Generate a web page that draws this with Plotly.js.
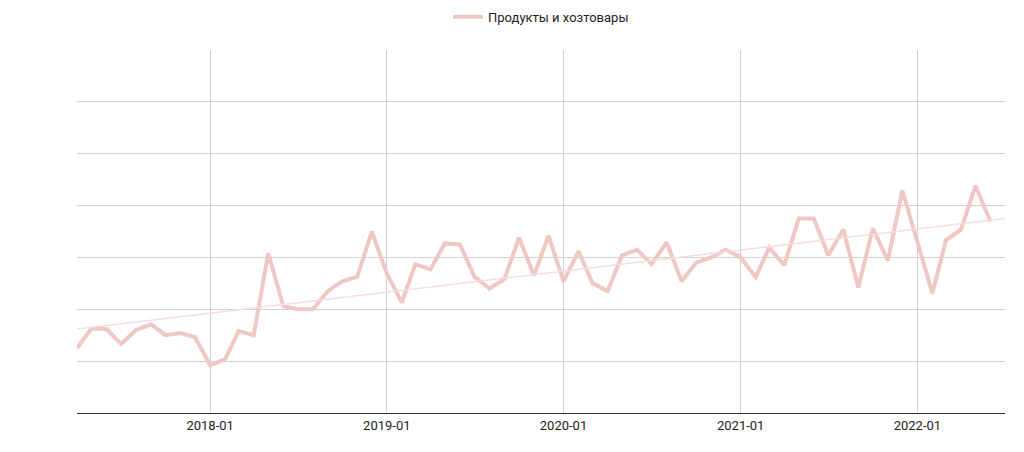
<!DOCTYPE html>
<html>
<head>
<meta charset="utf-8">
<script src="https://cdn.plot.ly/plotly-3.0.1.min.js"></script>
<style>html,body{margin:0;padding:0;background:#fff}#chart{width:1024px;height:452px}</style>
</head>
<body>
<div id="chart"></div>
<script>
'use strict'

// monthly values, 2017-04 .. 2022-06
const months = [];
for (let i = 0; i < 63; i++) {
    const y = 2017 + Math.floor((3 + i) / 12);
    const m = (3 + i) % 12 + 1;
    months.push(`${y}-${String(m).padStart(2, '0')}-01`);
}
const values = [
    12.5, 16.3, 16.2, 13.3, 16.0, 17.1, 15.0, 15.4, 14.6,
    9.2, 10.4, 15.8, 15.0, 30.8, 20.6, 20.0, 20.0, 23.5, 25.4, 26.3, 35.0,
    26.9, 21.3, 28.7, 27.7, 32.7, 32.5, 26.3, 24.0, 25.8, 33.8, 26.5, 34.2,
    25.4, 31.2, 25.0, 23.5, 30.4, 31.5, 28.7, 32.9, 25.4, 29.0, 30.0, 31.5,
    30.0, 26.2, 31.9, 28.5, 37.5, 37.5, 30.4, 35.4, 24.2, 35.6, 29.4, 42.9,
    32.7, 23.1, 33.3, 35.4, 43.8, 36.9
];
const trendX = ['2017-04-01', '2022-07-01'];
const trendY = [16.2, 37.5];
const tickVals = ['2018-01-01', '2019-01-01', '2020-01-01', '2021-01-01', '2022-01-01'];
const tickText = ['2018-01', '2019-01', '2020-01', '2021-01', '2022-01'];

const traces = [
    {
        x: months, y: values, mode: 'lines', name: 'Продукты и хозтовары',
        line: {color: '#efc7c3', width: 4}, type: 'scatter'
    },
    {
        x: trendX, y: trendY, mode: 'lines', showlegend: false,
        line: {color: '#f7dede', width: 1.5}, type: 'scatter'
    }
];

const layout = {
    width: 1024, height: 452,
    margin: {l: 77, r: 19, t: 50, b: 39, autoexpand: false},
    font: {family: 'Roboto, Arial, sans-serif', size: 13, color: '#222'},
    showlegend: true,
    legend: {orientation: 'h', x: 0.5, xanchor: 'center', y: 1.05, yanchor: 'bottom', font: {size: 13}},
    xaxis: {
        range: ['2017-04-01', '2022-07-01'],
        tickvals: tickVals, ticktext: tickText,
        showgrid: true, gridcolor: '#cfcfd4', gridwidth: 1,
        showline: true, linecolor: '#333', linewidth: 1,
        ticks: '', zeroline: false
    },
    yaxis: {
        range: [0, 70], dtick: 10, showticklabels: false,
        gridcolor: '#cfcfd4', zeroline: false, fixedrange: true
    },
    paper_bgcolor: '#fff', plot_bgcolor: '#fff'
};

Plotly.newPlot('chart', traces, layout, {displayModeBar: false});
</script>
</body>
</html>
